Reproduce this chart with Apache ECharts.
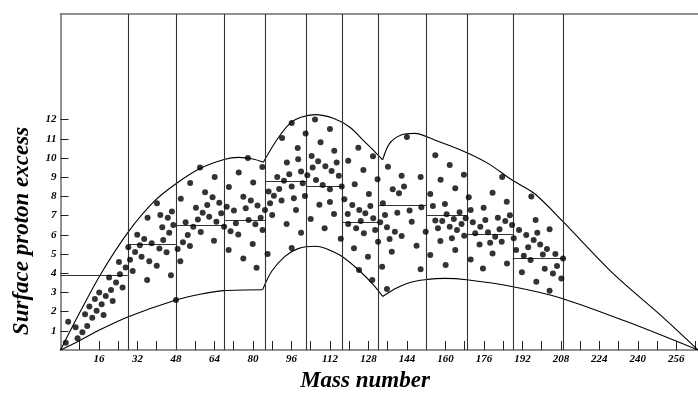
<!DOCTYPE html>
<html><head><meta charset="utf-8">
<script src="https://cdn.jsdelivr.net/npm/echarts@6/dist/echarts.min.js"></script>
<style>html,body{margin:0;padding:0;background:#fff}#c{width:698px;height:394px}</style>
</head><body><div id="c"></div>
<script>
// ---- data ----
const xTitle = 'Mass number';
const yTitle = 'Surface proton excess';
const xTickValues = [8,16,24,32,40,48,56,64,72,80,88,96,104,112,120,128,136,144,152,160,168,176,184,192,200,208,216,224,232,240,248,256,264];
const xLabelValues = [16,32,48,64,80,96,112,128,144,160,176,192,208,224,240,256];
const yTickValues = [1,2,3,4,5,6,7,8,9,10,11,12];
const boundaries = [28,48,68,85,102,117,132,152,169,188,209];
const stepStarts = [0,28,48,68,85,102,117,132,152,169,188];
const stepEnds   = [28,48,68,85,102,117,132,152,169,188,209];
const stepValues = [3.9,5.5,6.5,6.75,8.77,8.54,6.65,7.52,7.03,6.02,4.76];
const upperA = [[0,0],[8,1.95],[16.7,3.95],[28.2,6.15],[39,7.75],[48,8.66],[58,9.45],[68,9.92],[74,10.03],[80,9.95],[84.3,9.78]];
const upperB = [[84.3,9.78],[89.9,10.94],[95.4,11.8],[100,12.12],[105.8,12.26],[113.4,12.07],[120.3,11.6],[126.4,10.85],[130.6,10.33],[133.9,9.9]];
const upperC = [[133.9,9.9],[136.8,10.76],[141.6,11.2],[147.2,11.28],[155.5,10.94],[168,10.33],[177.7,9.72],[187.7,8.85],[197,8.15],[208.8,6.7],[230,3.95],[250,1.75],[265,0]];
const lowerA = [[0,0],[8.1,0.5],[16.4,1.05],[28.2,1.73],[48,2.6],[58,2.9],[67.7,3.09],[84,3.14]];
const lowerB = [[84,3.14],[87.8,4.1],[93.3,4.88],[98.8,5.28],[105.8,5.4],[110,5.3],[116.9,4.88],[124.5,4.1],[130,3.4],[133.9,2.79]];
const lowerC = [[133.9,2.79],[139.7,3.23],[145.3,3.52],[151.5,3.66],[159.7,3.73],[168.8,3.66],[187.6,3.31],[208.2,2.7],[237.2,1.39],[265,0]];
const points = [
[2.2,0.38],[3.2,1.47],[6.3,1.18],[7.1,0.61],[9.1,0.92],[10.2,1.86],[11.1,1.25],[12.0,2.26],[13.2,1.68],[14.3,2.66],[15.0,2.05],[16.1,3.0],[17.1,2.38],[17.9,1.82],[18.8,2.81],[20.2,3.77],[21.0,3.13],[21.7,2.55],[23.1,3.52],[24.3,4.58],[24.7,3.94],[25.8,3.25],[27.1,4.3],
[28.2,5.35],[28.9,4.7],[30.0,4.11],[31.0,5.1],[31.9,6.0],[33.0,5.45],[33.7,4.86],[34.8,5.78],[36.2,6.89],[36.0,3.65],[36.9,4.62],[37.9,5.56],[40.1,7.64],[40.0,4.39],[41.1,5.28],[41.5,7.03],[42.3,6.39],[42.7,5.73],[44.1,5.09],[44.6,6.89],[45.2,6.11],[45.9,3.89],[46.3,7.22],[46.9,6.51],
[48.0,2.6],[48.7,5.26],[49.8,4.62],[50.0,7.88],[50.9,5.61],[52.0,6.65],[52.9,5.99],[53.8,5.42],[53.9,8.7],[55.2,6.42],[56.3,7.41],[57.1,6.8],[58.0,9.51],[58.3,6.15],[59.1,7.15],[60.1,8.21],[61.0,7.55],[61.8,6.94],[63.2,7.95],[63.8,5.69],[64.1,9.01],[64.8,6.68],[66.0,7.67],[66.8,7.12],
[68.0,6.42],[69.1,7.46],[69.9,5.21],[70.0,8.49],[70.7,6.18],[72.1,7.26],[72.9,6.6],[73.9,6.02],[74.1,9.24],[76.0,7.98],[76.0,4.77],[77.0,7.38],[77.9,10.0],[78.2,6.77],[79.1,7.78],[79.9,5.52],[80.1,8.73],[81.0,6.55],[81.5,4.29],[81.9,7.52],[83.2,6.89],[83.9,9.53],[84.0,6.25],[85.0,7.29],
[86.1,5.0],[86.5,8.25],[87.1,7.64],[88.0,7.03],[88.7,8.04],[90.1,9.01],[90.9,8.39],[91.9,7.78],[92.1,11.04],[92.9,8.82],[94.0,6.56],[94.1,9.76],[95.1,9.15],[96.1,11.82],[96.1,8.51],[96.1,5.31],[97.0,7.9],[97.9,7.29],[98.6,10.52],[98.8,9.93],[100.0,9.3],[100.0,6.11],[100.7,8.68],[101.6,8.02],[101.9,11.28],
[102.6,9.1],[104.0,6.82],[104.4,10.1],[104.8,9.51],[105.8,12.0],[106.2,8.85],[107.1,9.83],[107.6,7.57],[108.1,10.82],[109.0,8.59],[109.8,6.34],[110.1,9.57],[112.0,11.51],[112.0,7.71],[112.0,8.37],[112.7,9.32],[113.7,7.08],[113.8,10.38],[114.8,9.76],[115.7,9.08],[116.5,5.8],[116.9,8.51],
[118.0,7.85],[119.4,7.08],[119.6,6.56],[119.6,9.86],[121.3,7.55],[122.0,5.3],[122.3,8.63],[122.9,6.34],[123.8,10.54],[124.1,4.17],[124.2,7.29],[124.8,6.72],[125.9,9.38],[126.1,6.08],[126.7,7.12],[127.8,4.86],[128.2,8.13],[128.8,7.5],[129.6,3.65],[129.9,10.09],[130.0,6.86],[130.8,6.25],[131.8,8.89],
[132.0,5.64],[132.9,6.65],[133.7,4.34],[134.0,7.64],[134.9,7.03],[135.7,6.39],[135.7,3.18],[136.1,9.55],[136.8,5.78],[137.7,5.12],[138.1,8.37],[139.0,6.16],[140.0,7.15],[140.7,8.16],[141.8,9.08],[141.8,5.94],[142.8,8.51],[144.0,11.09],[145.1,7.26],[146.0,6.68],[148.0,5.43],[149.7,9.01],[149.7,4.2],[150.0,7.43],[151.8,6.16],
[153.7,8.13],[153.7,4.95],[154.8,7.5],[155.8,10.14],[155.8,6.75],[156.9,6.34],[157.9,5.68],[158.0,8.87],[158.7,6.72],[159.8,7.6],[160.1,4.43],[160.5,7.07],[161.8,9.64],[161.8,6.42],[162.7,5.82],[163.5,6.82],[164.1,8.42],[164.1,5.21],[164.8,6.25],[165.9,7.17],[166.7,6.56],[167.7,9.13],[167.8,5.95],[168.4,6.86],
[169.7,7.95],[170.5,7.29],[170.5,4.72],[171.4,6.65],[172.4,6.08],[174.2,5.5],[174.5,6.42],[175.6,4.25],[175.9,7.41],[176.6,6.77],[177.7,6.13],[178.6,5.59],[179.6,8.19],[179.6,5.03],[180.7,5.9],[181.8,6.89],[182.5,6.29],[183.4,5.64],[183.6,9.01],[184.9,6.72],[185.5,7.72],[185.6,4.51],[186.8,7.02],[187.7,6.51],
[188.4,5.82],[189.4,5.21],[190.6,6.25],[191.8,4.05],[192.6,4.91],[193.6,5.99],[194.4,5.35],[195.4,4.69],[195.7,8.0],[196.7,5.73],[197.5,6.77],[197.8,3.56],[198.2,6.11],[199.4,5.5],[200.5,4.98],[201.3,4.23],[202.2,5.26],[203.3,6.29],[203.3,3.09],[204.7,3.99],[205.7,5.0],[206.4,4.38],[208.2,3.73],[208.9,4.76]
];
const xMin = 0, xMax = 265, yMin = 0, yMax = 17.5;

// ---- chart ----
const FONT = '"Liberation Serif","Times New Roman",serif';
const chart = echarts.init(document.getElementById('c'), null, {renderer:'canvas'});
const curveStyle = {color:'#000', width:1.1};
function curve(d){ return {type:'line', data:d, smooth:0.3, symbol:'none', silent:true, lineStyle:curveStyle, z:3}; }
const vLines = boundaries.map(b => [{coord:[b,yMin]},{coord:[b,yMax]}]);
const hSteps = stepStarts.map((s,i) => [{coord:[s,stepValues[i]]},{coord:[stepEnds[i],stepValues[i]]}]);
chart.setOption({
  animation:false,
  backgroundColor:'#fff',
  grid:{left:60.5, top:14, right:0, bottom:44, containLabel:false},
  xAxis:[{
    type:'value', min:xMin, max:xMax, interval:8,
    axisLine:{show:true, lineStyle:{color:'#6e6e6e', width:1.5}},
    axisTick:{show:true, inside:true, length:9, customValues:xTickValues, lineStyle:{color:'#222', width:1}},
    axisLabel:{show:true, customValues:xLabelValues, margin:4, color:'#000', fontFamily:FONT, fontStyle:'italic', fontWeight:'bold', fontSize:11},
    splitLine:{show:false}
  },{
    type:'value', position:'top', min:xMin, max:xMax,
    axisLine:{show:true, lineStyle:{color:'#6e6e6e', width:1.5}},
    axisTick:{show:false}, axisLabel:{show:false}, splitLine:{show:false}
  }],
  yAxis:{
    type:'value', min:yMin, max:yMax, interval:1,
    axisLine:{show:true, lineStyle:{color:'#6e6e6e', width:1.5}},
    axisTick:{show:true, inside:true, length:8, customValues:yTickValues, lineStyle:{color:'#222', width:1}},
    axisLabel:{show:true, customValues:yTickValues, margin:4, color:'#000', fontFamily:FONT, fontStyle:'italic', fontWeight:'bold', fontSize:11},
    splitLine:{show:false}
  },
  series:[
    {type:'scatter', data:points, symbol:'circle', symbolSize:6, itemStyle:{color:'#000'}, z:5, silent:true,
     markLine:{silent:true, symbol:['none','none'], label:{show:false}, animation:false,
       lineStyle:{color:'#333', width:1.1, type:'solid'}, data:vLines.concat(hSteps)}},
    curve(upperA), curve(upperB), curve(upperC),
    curve(lowerA), curve(lowerB), curve(lowerC)
  ],
  graphic:[
    {type:'text', x:365, y:381, style:{text:xTitle, font:'italic bold 23px '+FONT, fill:'#000', textAlign:'center', textVerticalAlign:'middle'}},
    {type:'text', x:22, y:231, rotation:Math.PI/2, style:{text:yTitle, font:'italic bold 23px '+FONT, fill:'#000', textAlign:'center', textVerticalAlign:'middle'}}
  ]
});
</script></body></html>
